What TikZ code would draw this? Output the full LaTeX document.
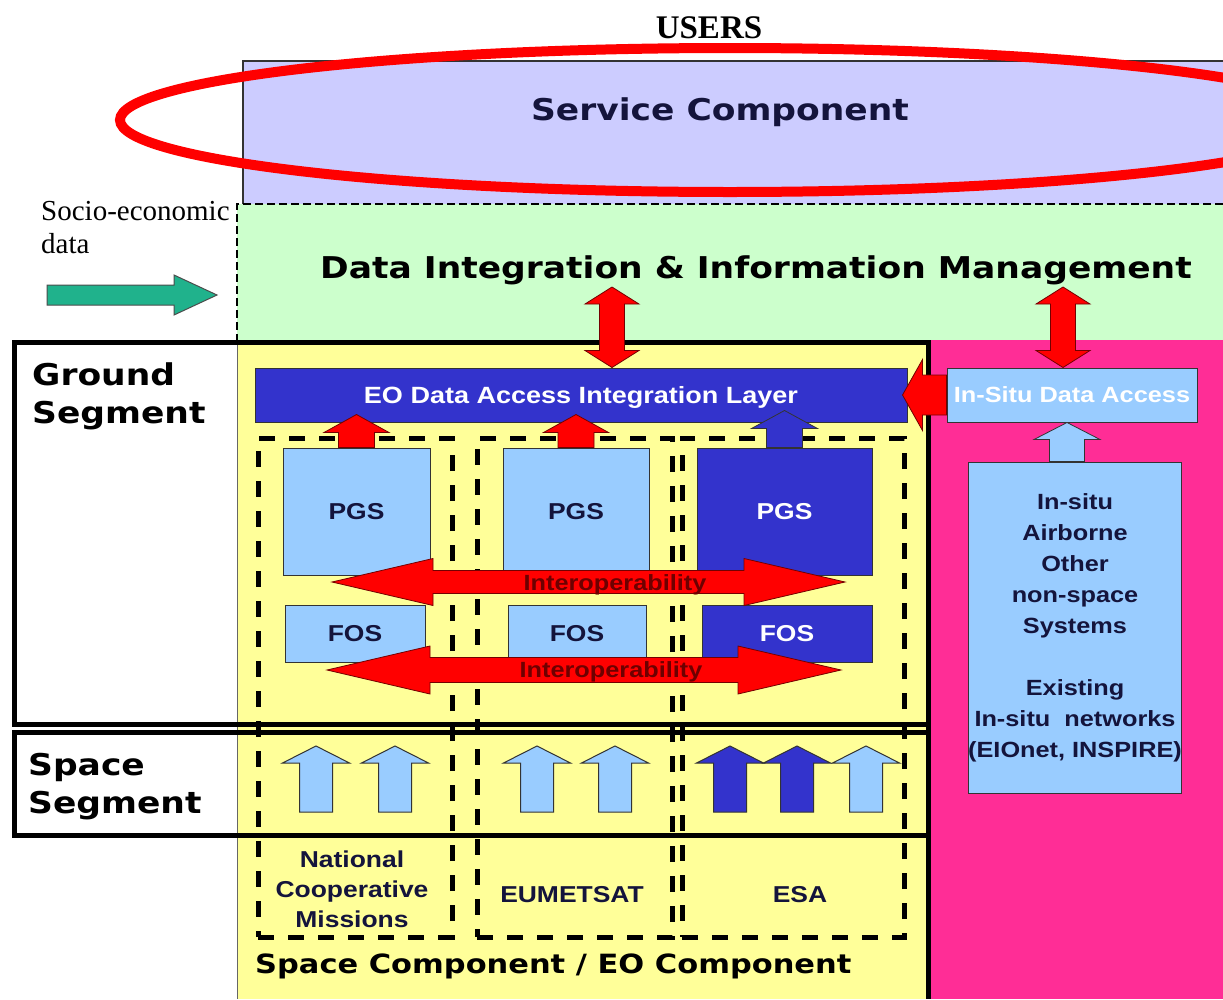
\documentclass[tikz,border=0pt]{standalone}
\usepackage{fontspec}
\setmainfont{Liberation Serif}
\newfontfamily\verdana[FakeStretch=1.15]{DejaVu Sans}
\newfontfamily\arial[FakeStretch=1.15]{Liberation Sans}
\usetikzlibrary{calc}

\definecolor{lavender}{RGB}{204,204,255}
\definecolor{mint}{RGB}{204,255,204}
\definecolor{paleyellow}{RGB}{255,255,153}
\definecolor{hotpink}{RGB}{255,45,150}
\definecolor{darkblue}{RGB}{51,51,204}
\definecolor{lightblue}{RGB}{153,204,255}
\definecolor{seagreen}{RGB}{32,178,140}
\definecolor{navytext}{RGB}{20,20,60}
\definecolor{interred}{RGB}{110,0,0}

\newcommand{\blkarrow}[6]{%
  \path (#2) coordinate (ba-s) (#3) coordinate (ba-t);
  \path ($(ba-t)!#6!(ba-s)$) coordinate (ba-h);
  \draw[#1] ($(ba-s)!#4!90:(ba-t)$) -- ($(ba-h)!#4!90:(ba-t)$) -- ($(ba-h)!#5!90:(ba-t)$) -- (ba-t)
    -- ($(ba-h)!#5!-90:(ba-t)$) -- ($(ba-h)!#4!-90:(ba-t)$) -- ($(ba-s)!#4!-90:(ba-t)$) -- cycle;}
\newcommand{\dblarrow}[6]{%
  \path (#2) coordinate (ba-s) (#3) coordinate (ba-t);
  \path ($(ba-s)!#6!(ba-t)$) coordinate (ba-g) ($(ba-t)!#6!(ba-s)$) coordinate (ba-h);
  \draw[#1] (ba-s) -- ($(ba-g)!#5!90:(ba-t)$) -- ($(ba-g)!#4!90:(ba-t)$) -- ($(ba-h)!#4!90:(ba-t)$) -- ($(ba-h)!#5!90:(ba-t)$) -- (ba-t)
    -- ($(ba-h)!#5!-90:(ba-t)$) -- ($(ba-h)!#4!-90:(ba-t)$) -- ($(ba-g)!#4!-90:(ba-t)$) -- ($(ba-g)!#5!-90:(ba-t)$) -- cycle;}

\begin{document}
\begin{tikzpicture}
[x=1pt, y=-1pt, every node/.style={inner sep=0pt},
 box/.style={draw=black!80, line width=1pt, text height=16.5pt, text depth=0pt, font=\arial\bfseries\fontsize{23}{28}\selectfont},
 frame/.style={draw=black, line width=5pt},
 column/.style={draw=black, line width=5pt, dash pattern=on 16pt off 14pt},
 redarrow/.style={fill=red, draw=black!55!red, line width=0.8pt},
 title/.style={font=\verdana\bfseries\fontsize{30}{38}\selectfont},
 interop/.style={font=\arial\bfseries\fontsize{22}{26}\selectfont, text=interred},
 origin/.style={font=\arial\bfseries\fontsize{23}{30}\selectfont, text=navytext, align=center}]
\useasboundingbox (0,0) rectangle (1223,999);
\fill[white] (0,0) rectangle (1223,999);
\fill[lavender] (243,61) rectangle (1223,204);
\fill[mint] (237,204) rectangle (1223,340);
\fill[paleyellow] (237,340) rectangle (928,999);
\fill[hotpink] (928,340) rectangle (1223,999);
\draw[black!80, line width=1.5pt] (1223,61) -- (243,61) -- (243,204);
\draw[black, line width=2.5pt, dash pattern=on 8pt off 4pt] (1223,204) -- (237,204) -- (237,340);
\draw[black!60, line width=1pt] (237,340) -- (237,999);
\node (ground) [frame, minimum width=914pt, minimum height=382pt] at (471,533) {};
\node (space) [frame, minimum width=914pt, minimum height=103pt] at (471,783.5) {};
\draw[black, line width=5pt] (928,340) -- (928,999);
\node (cola) [column, minimum width=194pt, minimum height=499pt] at (355,687.5) {};
\node (colb) [column, minimum width=195pt, minimum height=499pt] at (574.5,687.5) {};
\node (colc) [column, minimum width=222pt, minimum height=499pt] at (793,687.5) {};
\node (eo) [box, fill=darkblue, text=white, minimum width=652pt, minimum height=54pt, font=\arial\bfseries\fontsize{23.5}{28}\selectfont] at (581,395) {EO Data Access Integration Layer};
\node (insitu) [box, fill=lightblue, text=white, minimum width=250pt, minimum height=54pt, text height=15.8pt, font=\arial\bfseries\fontsize{22}{26}\selectfont] at (1072,395) {In-Situ Data Access};
\node (pgs1) [box, fill=lightblue, text=navytext, minimum width=147pt, minimum height=127pt] at (356.5,511.5) {PGS};
\node (pgs2) [box, fill=lightblue, text=navytext, minimum width=146pt, minimum height=127pt] at (576,511.5) {PGS};
\node (pgs3) [box, fill=darkblue, text=white, minimum width=175pt, minimum height=127pt] at (784.5,511.5) {PGS};
\node (fos1) [box, fill=lightblue, text=navytext, minimum width=140pt, minimum height=57pt] at (355,633.5) {FOS};
\node (fos2) [box, fill=lightblue, text=navytext, minimum width=138pt, minimum height=57pt] at (577,633.5) {FOS};
\node (fos3) [box, fill=darkblue, text=white, minimum width=170pt, minimum height=57pt] at (787,633.5) {FOS};
\node (sys) [box, fill=lightblue, text=navytext, minimum width=204pt, minimum height=331pt, text height=, text depth=, align=center, font=\arial\bfseries\fontsize{22}{31}\selectfont] at (1075,627.5) {In-situ\\Airborne\\Other\\non-space\\Systems\\[31pt]Existing\\In-situ~ networks\\(EIOnet, INSPIRE)};
\coordinate (soc1) at (47,295);
\coordinate (soc2) at (217,295);
\blkarrow{fill=seagreen, draw=black!70, line width=1pt}{soc1}{soc2}{10pt}{20pt}{43pt}
\coordinate (dim1) at (612,287);
\coordinate (dim2) at (1063,287);
\dblarrow{redarrow}{dim1}{dim1 |- eo.north}{12.5pt}{27pt}{17pt}
\dblarrow{redarrow}{dim2}{dim2 |- insitu.north}{12.5pt}{27pt}{17pt}
\blkarrow{redarrow}{insitu.west}{$(eo.east)+(-5,0)$}{20pt}{35.5pt}{20pt}
\blkarrow{redarrow}{pgs1.north}{$(pgs1.north |- eo.south)+(0,-8)$}{18pt}{32.5pt}{18pt}
\blkarrow{redarrow}{pgs2.north}{$(pgs2.north |- eo.south)+(0,-8)$}{18pt}{32.5pt}{18pt}
\blkarrow{fill=darkblue, draw=black!80, line width=0.8pt}{pgs3.north}{$(pgs3.north |- eo.south)+(0,-12)$}{18pt}{33pt}{18pt}
\coordinate (sysup) at ($(sys.north)+(-8,0)$);
\blkarrow{fill=lightblue, draw=black!80, line width=0.8pt}{sysup}{sysup |- insitu.south}{17.5pt}{33pt}{17pt}
\coordinate (io1a) at (332,582);
\coordinate (io1b) at (845,582);
\coordinate (io2a) at (327,670);
\coordinate (io2b) at (841,670);
\dblarrow{redarrow}{io1a}{io1b}{11.5pt}{23.5pt}{101pt}
\dblarrow{redarrow}{io2a}{io2b}{12.5pt}{24pt}{103pt}
\node (io1) [interop, anchor=base] at (615,590) {Interoperability};
\node (io2) [interop, anchor=base] at (611,677) {Interoperability};
\foreach \x/\c in {316/lightblue, 395/lightblue, 537/lightblue, 615/lightblue, 730/darkblue, 797/darkblue, 866/lightblue} {
  \coordinate (sa) at (\x,812);
  \coordinate (sb) at (\x,746);
  \blkarrow{fill=\c, draw=black!80, line width=1pt}{sa}{sb}{16.5pt}{33.5pt}{17pt}
}
\node (users) [anchor=base, font=\bfseries\fontsize{33}{40}\selectfont] at (709,38) {USERS};
\node (socio) [anchor=north west, align=left, font=\fontsize{29}{33}\selectfont] at (41,201) {Socio-economic\\data};
\node (service) [title, anchor=base, text=navytext] at (720,120) {Service Component};
\node (dim) [title, anchor=base] at (756,278) {Data Integration \& Information Management};
\node (gslabel) [title, anchor=north west, align=left] at (32,362) {Ground\\Segment};
\node (sslabel) [title, anchor=north west, align=left] at (28,753) {Space\\Segment};
\node (national) [origin, anchor=north] at (352,851) {National\\Cooperative\\Missions};
\node (eumetsat) [origin, anchor=base] at (572,902) {EUMETSAT};
\node (esa) [origin, anchor=base] at (800,902) {ESA};
\node (spacecomp) [anchor=base west, font=\verdana\bfseries\fontsize{26.5}{32}\selectfont] at (255,973) {Space Component / EO Component};
\draw[red, line width=10pt] (730,120) ellipse [x radius=610pt, y radius=72pt];
\end{tikzpicture}
\end{document}
